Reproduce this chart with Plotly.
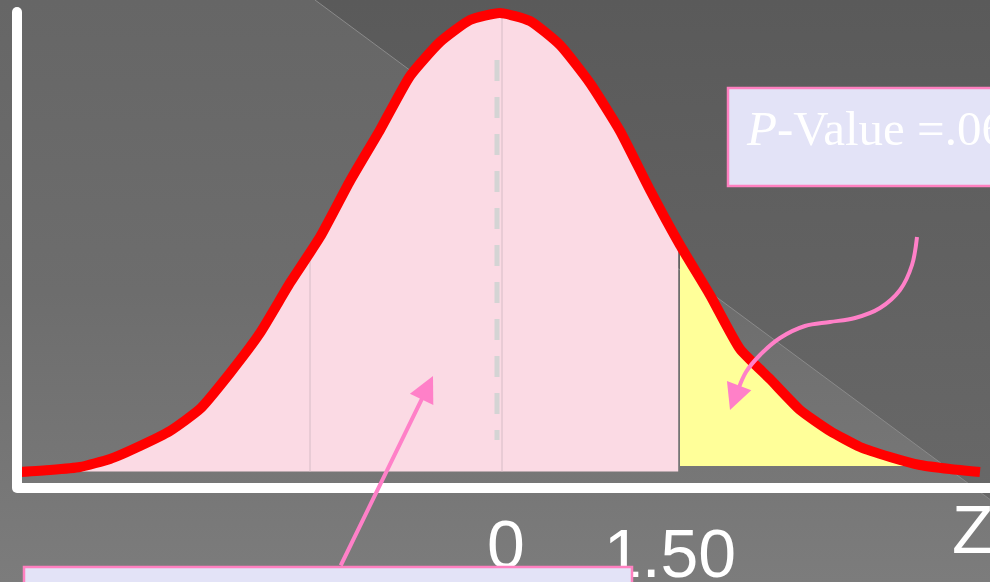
import numpy as np
import plotly.graph_objects as go

# ---- data -------------------------------------------------------------
z_grid = [-4.0, -3.75, -3.5, -3.25, -3.0, -2.75, -2.5, -2.25, -2.0, -1.75,
          -1.5, -1.25, -1.0, -0.75, -0.5, -0.25, 0.0, 0.25, 0.5, 0.75,
          1.0, 1.25, 1.5, 1.75, 2.0, 2.25, 2.5, 2.75, 3.0, 3.25, 3.5,
          3.75, 4.0]
density = [0.0007, 0.0021, 0.0042, 0.0098, 0.0189, 0.0294, 0.0448, 0.0699,
           0.0979, 0.1329, 0.1650, 0.2042, 0.2399, 0.2776, 0.3014, 0.3168,
           0.3217, 0.3161, 0.2993, 0.2727, 0.2392, 0.1979, 0.1594, 0.1245,
           0.0867, 0.0657, 0.0441, 0.0294, 0.0182, 0.0112, 0.0056, 0.0028,
           0.0007]
z_critical = 1.50
tick_values = [0.0, 1.50]
tick_labels = ["0", "1.50"]
p_value_label = "<i>P</i>-Value =.06"
axis_title = "Z"

W, H = 990, 582
# axis scaling: 120 px per z unit, 1430 px per density unit
X0_PX, PX_PER_Z = 500, 120.0
Y0_PX, PX_PER_D = 473, 1430.0


def zx(px):
    return (px - X0_PX) / PX_PER_Z


def hy(py):
    return (Y0_PX - py) / PX_PER_D


z_arr = np.array(z_grid)
d_arr = np.array(density)


def curve_at(z):
    return float(np.interp(z, z_arr, d_arr))


fig = go.Figure()

# ---- backdrop: vertical gradient with a darker diagonal wedge ---------
fig.add_trace(go.Scatter(
    x=[zx(-5), zx(W + 5), zx(W + 5), zx(-5), zx(-5)],
    y=[hy(-5), hy(-5), hy(H + 5), hy(H + 5), hy(-5)],
    mode="lines", line=dict(width=0), fill="toself",
    fillgradient=dict(type="vertical", start=hy(H), stop=hy(0),
                      colorscale=[[0, "#7c7c7c"], [0.5, "#6d6d6d"], [1, "#666666"]]),
    hoverinfo="skip"))
fig.add_trace(go.Scatter(
    x=[zx(315), zx(W + 5), zx(W + 5), zx(315)],
    y=[hy(0), hy(0), hy(0.74 * (W + 5 - 315)), hy(0)],
    mode="lines", line=dict(width=0), fill="toself",
    fillgradient=dict(type="vertical", start=hy(505), stop=hy(0),
                      colorscale=[[0, "#686868"], [1, "#5a5a5a"]]),
    hoverinfo="skip"))
fig.add_trace(go.Scatter(
    x=[zx(315), zx(W + 5)], y=[hy(0), hy(0.74 * (W + 5 - 315))],
    mode="lines", line=dict(color="#8a8a8a", width=1), hoverinfo="skip"))

# ---- shaded areas ------------------------------------------------------
pink_base = hy(471.5)
pink_end = z_critical - 0.015
pz = [z for z in z_grid if z < pink_end] + [pink_end]
ptop = [max(curve_at(z), pink_base) for z in pz]
fig.add_trace(go.Scatter(
    x=pz + pz[::-1], y=ptop + [pink_base] * len(pz),
    mode="lines", line=dict(width=0), fill="toself",
    fillcolor="#fbdae4", hoverinfo="skip"))

yellow_base = hy(466)
yz = [z_critical] + [z for z in z_grid if z > z_critical]
ytop = [max(curve_at(z), yellow_base) for z in yz]
fig.add_trace(go.Scatter(
    x=yz + yz[::-1], y=ytop + [yellow_base] * len(yz),
    mode="lines", line=dict(width=0), fill="toself",
    fillcolor="#ffff99", hoverinfo="skip"))

# thin guide lines inside the pink area
for gz in [zx(310), zx(502)]:
    fig.add_trace(go.Scatter(
        x=[gz, gz], y=[pink_base, curve_at(gz)],
        mode="lines", line=dict(color="#d6bcc6", width=1), hoverinfo="skip"))

# dashed centre line
fig.add_trace(go.Scatter(
    x=[zx(497), zx(497)], y=[hy(60), hy(440)],
    mode="lines", line=dict(color="#d4d4d4", width=5, dash="21px,16px"),
    hoverinfo="skip"))

# ---- the curve -----------------------------------------------------------
fig.add_trace(go.Scatter(
    x=z_grid, y=density, mode="lines",
    line=dict(color="#ff0000", width=10, shape="spline", smoothing=0.5),
    hoverinfo="skip"))

# ---- axis labels (under the boxes) --------------------------------------
label_font = dict(family="Liberation Sans, Arial, sans-serif", size=68, color="#ffffff")
fig.add_trace(go.Scatter(
    x=[tick_values[0] + zx(506), tick_values[1] + zx(670) - z_critical],
    y=[hy(551), hy(560)],
    mode="text", text=tick_labels, textposition="middle center",
    textfont=label_font, cliponaxis=False, hoverinfo="skip"))
fig.add_trace(go.Scatter(
    x=[zx(952)], y=[hy(536)], mode="text", text=[axis_title],
    textposition="middle right", textfont=label_font,
    cliponaxis=False, hoverinfo="skip"))

# ---- curved pointer to the tail area ----------------------------------
cpx = [917, 912, 900, 880, 855, 830, 805, 780, 760, 746, 738]
cpy = [237, 265, 290, 308, 318, 322, 326, 338, 355, 372, 390]
fig.add_trace(go.Scatter(
    x=[zx(p) for p in cpx], y=[hy(p) for p in cpy],
    mode="lines", line=dict(color="#ff80c8", width=4, shape="spline"),
    hoverinfo="skip"))

shapes = []
# white axes
shapes.append(dict(type="line", x0=zx(17), x1=zx(17), y0=hy(12), y1=hy(488),
                   line=dict(color="#ffffff", width=10), layer="above"))
shapes.append(dict(type="line", x0=zx(17), x1=zx(W + 10), y0=hy(488), y1=hy(488),
                   line=dict(color="#ffffff", width=10), layer="above"))
for cy in [12, 488]:
    shapes.append(dict(type="circle", x0=zx(12), x1=zx(22), y0=hy(cy - 5), y1=hy(cy + 5),
                       line=dict(width=0), fillcolor="#ffffff", layer="above"))
# text boxes
shapes.append(dict(type="rect", x0=zx(728), x1=zx(W + 20), y0=hy(88), y1=hy(186),
                   line=dict(color="#ff80c0", width=2.5), fillcolor="#e3e3f7",
                   layer="above"))
shapes.append(dict(type="rect", x0=zx(24), x1=zx(632), y0=hy(567), y1=hy(H + 20),
                   line=dict(color="#ff80c0", width=2.5), fillcolor="#e3e3f7",
                   layer="above"))

annotations = [
    dict(x=zx(744), y=hy(128), xref="x", yref="y", text=p_value_label,
         showarrow=False, xanchor="left", yanchor="middle",
         font=dict(family="Liberation Serif, Times New Roman, serif", size=49,
                   color="#ffffff")),
    # straight pointer from the lower box into the pink area
    dict(x=zx(433), y=hy(376), xref="x", yref="y", text="", showarrow=True,
         ax=340 - 433, ay=567 - 376, arrowhead=2, arrowsize=1.3, arrowwidth=4,
         arrowcolor="#ff80c8", standoff=0),
    # head of the curved pointer
    dict(x=zx(730), y=hy(410), xref="x", yref="y", text="", showarrow=True,
         ax=9, ay=-24, arrowhead=2, arrowsize=1.3, arrowwidth=4,
         arrowcolor="#ff80c8", standoff=0),
]

fig.update_layout(
    width=W, height=H, autosize=False,
    margin=dict(l=0, r=0, t=0, b=0, pad=0),
    paper_bgcolor="#6f6f6f", plot_bgcolor="rgba(0,0,0,0)",
    showlegend=False,
    xaxis=dict(range=[zx(0), zx(W)], visible=False, fixedrange=True),
    yaxis=dict(range=[hy(H), hy(0)], visible=False, fixedrange=True),
    shapes=shapes, annotations=annotations,
)

fig.write_html("out.html", config={"displayModeBar": False})
